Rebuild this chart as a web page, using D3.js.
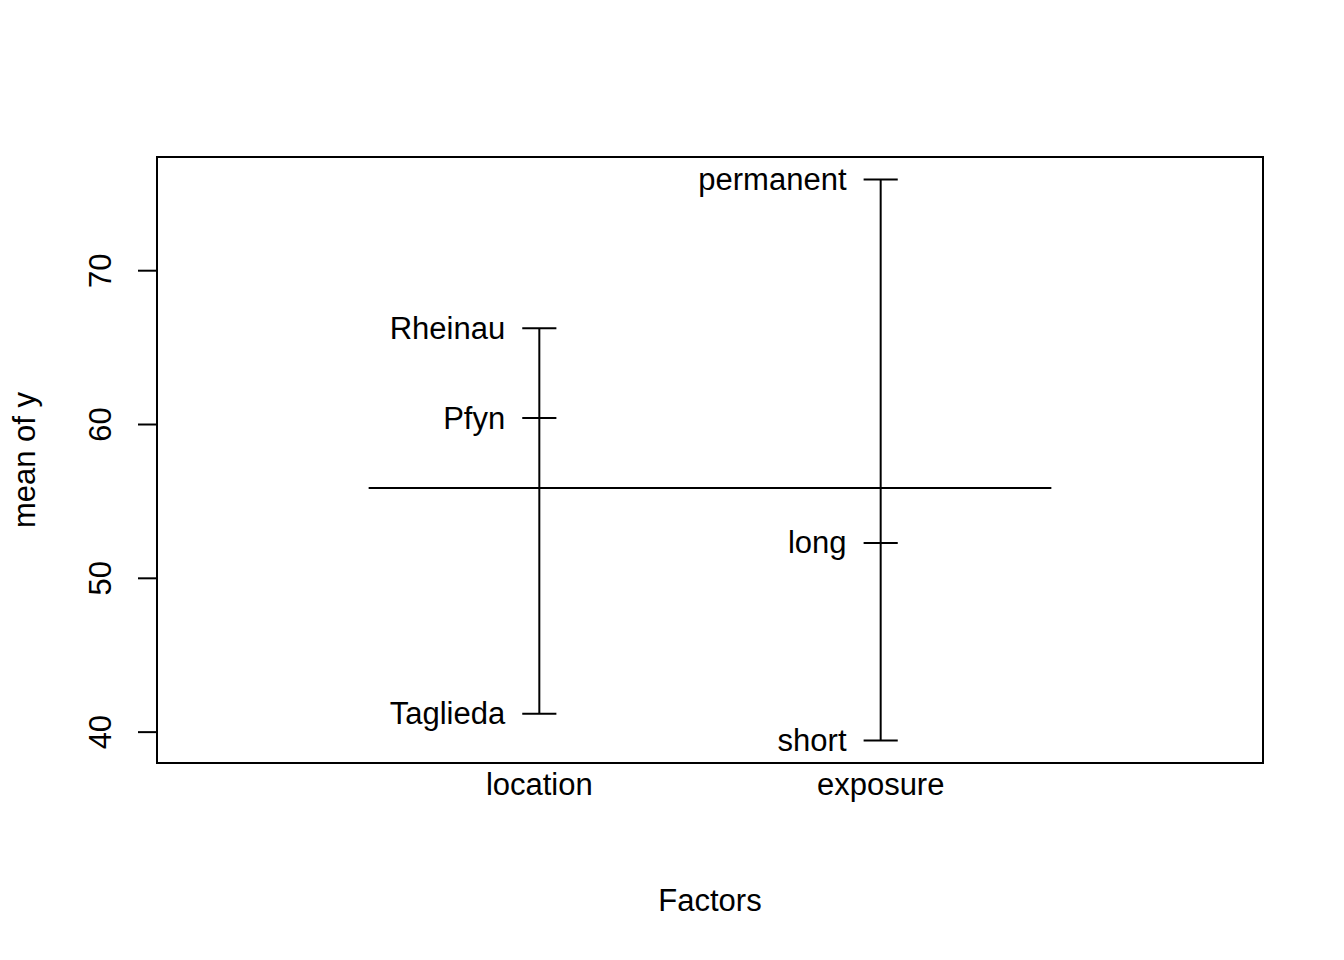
<!DOCTYPE html>
<html><head><meta charset="utf-8">
<script src="https://cdn.jsdelivr.net/npm/d3@7"></script>
<style>body{margin:0;background:#fff}svg{display:block}text{font-family:"Liberation Sans",Arial,sans-serif}</style>
</head><body>
<script>
const factors = ["location", "exposure"];
const levelNames = [["Rheinau", "Pfyn", "Taglieda"], ["permanent", "long", "short"]];
const levelMeans = [[66.23, 60.39, 41.17], [75.9, 52.27, 39.42]];
const grandMean = 55.84;
const yTicks = [40, 50, 60, 70];

const W = 1344, H = 960;
const box = {l: 157, r: 1263, t: 157, b: 763};
const fs = 31;
const svg = d3.select("body").append("svg").attr("width", W).attr("height", H);

const x = d3.scaleLinear().domain([-0.12, 3.12]).range([box.l, box.r]);
const allVals = levelMeans.flat();
const lo = d3.min(allVals), hi = d3.max(allVals), pad = (hi - lo) * 0.04;
const y = d3.scaleLinear().domain([lo - pad, hi + pad]).range([box.b, box.t]);

const g = svg.append("g").attr("stroke", "#000").attr("stroke-width", 2).attr("fill", "none");

// grand mean line
g.append("line").attr("x1", x(0.5)).attr("x2", x(factors.length + 0.5))
  .attr("y1", y(grandMean)).attr("y2", y(grandMean));

factors.forEach((f, i) => {
  const xi = x(i + 1);
  const vals = levelMeans[i];
  g.append("line").attr("x1", xi).attr("x2", xi).attr("y1", y(d3.min(vals))).attr("y2", y(d3.max(vals)));
  vals.forEach((v, j) => {
    g.append("line").attr("x1", x(i + 1 - 0.05)).attr("x2", x(i + 1 + 0.05)).attr("y1", y(v)).attr("y2", y(v));
    svg.append("text").attr("x", x(i + 1 - 0.1)).attr("y", y(v)).attr("text-anchor", "end")
      .attr("dominant-baseline", "central").attr("font-size", fs).text(levelNames[i][j]);
  });
  svg.append("text").attr("x", xi).attr("y", 795).attr("text-anchor", "middle")
    .attr("font-size", fs).text(f);
});

// box
svg.append("rect").attr("x", box.l).attr("y", box.t).attr("width", box.r - box.l).attr("height", box.b - box.t)
  .attr("fill", "none").attr("stroke", "#000").attr("stroke-width", 2);

// y axis
const ya = svg.append("g").attr("transform", `translate(${box.l},0)`)
  .call(d3.axisLeft(y).tickValues(yTicks).tickSize(19).tickPadding(0).tickFormat(d3.format("d")));
ya.select(".domain").attr("d", `M0,${y(40)}V${y(70)}`).attr("stroke-width", 2);
ya.selectAll(".tick line").attr("stroke-width", 2);
ya.selectAll(".tick text").attr("x", 0).attr("dy", null).attr("font-size", fs)
  .attr("text-anchor", "middle").attr("dominant-baseline", "central")
  .attr("transform", "translate(-57,0) rotate(-90)").attr("font-family", null);

svg.append("text").attr("x", (box.l + box.r) / 2).attr("y", 911).attr("text-anchor", "middle")
  .attr("font-size", fs).text("Factors");
svg.append("text").attr("transform", `translate(35,${(box.t + box.b) / 2}) rotate(-90)`)
  .attr("text-anchor", "middle").attr("font-size", fs).text("mean of y");
</script>
</body></html>
